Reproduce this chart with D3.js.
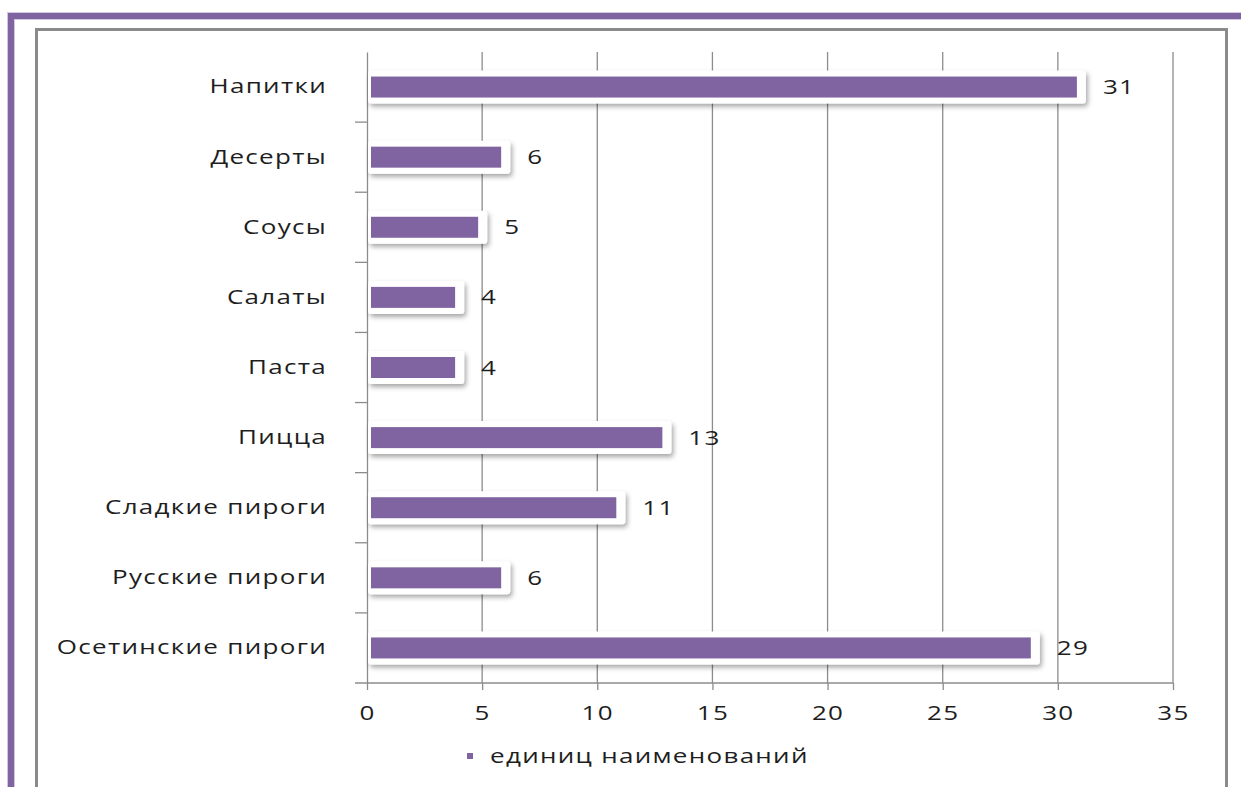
<!DOCTYPE html>
<html>
<head>
<meta charset="utf-8">
<script src="https://cdn.jsdelivr.net/npm/d3@7"></script>
<style>
  body { margin: 0; background: #fff; }
  svg { display: block; }
</style>
</head>
<body>
<div id="container"></div>
<script>
// chart data
let categories = ["Напитки", "Десерты", "Соусы", "Салаты", "Паста", "Пицца", "Сладкие пироги", "Русские пироги", "Осетинские пироги"];
let values = [31, 6, 5, 4, 4, 13, 11, 6, 29];
let xTicks = [0, 5, 10, 15, 20, 25, 30, 35];
let seriesName = "единиц наименований";

let width = 1241;
let height = 787;
let purple = "#8064A2";
let font = "'Open Sans', 'DejaVu Sans', sans-serif";
let sx = 1.3; // text in the picture is stretched sideways

let svg = d3.select("#container")
    .append("svg")
    .attr("width", width)
    .attr("height", height);

let defs = svg.append("defs");
let f = defs.append("filter").attr("id", "shadow")
    .attr("x", "-10%").attr("y", "-50%").attr("width", "130%").attr("height", "220%");
f.append("feDropShadow")
    .attr("dx", 2).attr("dy", 3).attr("stdDeviation", 2.5)
    .attr("flood-color", "#000").attr("flood-opacity", 0.35);

//purple frame (top + left)
svg.append("rect")
    .attr("x", 11).attr("y", 16)
    .attr("width", width + 20).attr("height", height + 20)
    .attr("fill", "none")
    .attr("stroke", "#d2c6e0").attr("stroke-width", 8);
svg.append("rect")
    .attr("x", 11).attr("y", 16)
    .attr("width", width + 20).attr("height", height + 20)
    .attr("fill", "none")
    .attr("stroke", purple).attr("stroke-width", 6);

//gray chart box
svg.append("rect")
    .attr("x", 36.5).attr("y", 29.5)
    .attr("width", 1190).attr("height", 790)
    .attr("fill", "#fff")
    .attr("stroke", "#8a8a8a").attr("stroke-width", 3);

let x = d3.scaleLinear().domain([0, 35]).range([367, 1173]);
let y = d3.scaleBand().domain(categories).range([52, 683]);

//grid lines
svg.selectAll(".grid")
    .data(xTicks.slice(1))
    .enter()
    .append("line")
    .attr("x1", d => x(d)).attr("x2", d => x(d))
    .attr("y1", 52).attr("y2", 683)
    .attr("stroke", "#8c8c8c").attr("stroke-width", 1.3);

//x axis
let xAxis = svg.append("g")
    .attr("transform", "translate(0,683)")
    .call(d3.axisBottom(x).tickValues(xTicks).tickSize(7).tickPadding(12).tickSizeOuter(0));
xAxis.select(".domain").remove();
xAxis.append("line").attr("x1", 355).attr("x2", x(35)).attr("stroke", "#8c8c8c").attr("stroke-width", 1.3);
xAxis.selectAll(".tick line").attr("stroke", "#8c8c8c").attr("stroke-width", 1.3);
xAxis.selectAll(".tick text")
    .attr("fill", "#1e1e1e")
    .attr("letter-spacing", "1px")
    .attr("transform", "scale(" + sx + ",1)")
    .style("font-family", font)
    .style("font-size", "20px")
    .attr("dy", "0.9em");

//y axis
let yAxis = svg.append("g")
    .attr("transform", "translate(367,0)")
    .call(d3.axisLeft(y).tickSize(0).tickPadding(0));
yAxis.select(".domain").attr("stroke", "#8c8c8c").attr("stroke-width", 1.3);
yAxis.selectAll(".tick text")
    .attr("fill", "#1e1e1e")
    .attr("x", -40 / sx)
    .attr("transform", "scale(" + sx + ",1)")
    .attr("letter-spacing", "1px")
    .style("font-family", font)
    .style("font-size", "20px");

//band boundary ticks
svg.selectAll(".btick")
    .data(categories.slice(1))
    .enter()
    .append("line")
    .attr("x1", 355).attr("x2", 367)
    .attr("y1", d => y(d)).attr("y2", d => y(d))
    .attr("stroke", "#8c8c8c").attr("stroke-width", 1.3);

let barH = 21;

//white shadow boxes
svg.selectAll(".box")
    .data(values)
    .enter()
    .append("rect")
    .attr("x", x(0) + 1)
    .attr("y", (d, i) => y(categories[i]) + y.bandwidth() / 2 - barH / 2 - 6)
    .attr("width", d => x(d) - x(0) + 4)
    .attr("height", barH + 12)
    .attr("rx", 3)
    .attr("fill", "#fff")
    .attr("filter", "url(#shadow)");

//bars
svg.selectAll(".bar")
    .data(values)
    .enter()
    .append("rect")
    .attr("x", x(0) + 4)
    .attr("y", (d, i) => y(categories[i]) + y.bandwidth() / 2 - barH / 2)
    .attr("width", d => x(d) - x(0) - 8)
    .attr("height", barH)
    .attr("fill", purple);

//value labels
svg.selectAll(".val")
    .data(values)
    .enter()
    .append("text")
    .attr("transform", (d, i) => "translate(" + (x(d) + 22) + "," + (y(categories[i]) + y.bandwidth() / 2) + ") scale(" + sx + ",1)")
    .attr("dy", "0.35em")
    .attr("fill", "#1e1e1e")
    .attr("letter-spacing", "1px")
    .style("font-family", font)
    .style("font-size", "20px")
    .text(d => d);

//legend
svg.append("rect")
    .attr("x", 467).attr("y", 753)
    .attr("width", 6).attr("height", 6)
    .attr("fill", purple);
svg.append("text")
    .attr("transform", "translate(490,756) scale(" + sx + ",1)")
    .attr("dy", "0.35em")
    .attr("fill", "#1e1e1e")
    .attr("letter-spacing", "1px")
    .style("font-family", font)
    .style("font-size", "20px")
    .text(seriesName);
</script>
</body>
</html>
